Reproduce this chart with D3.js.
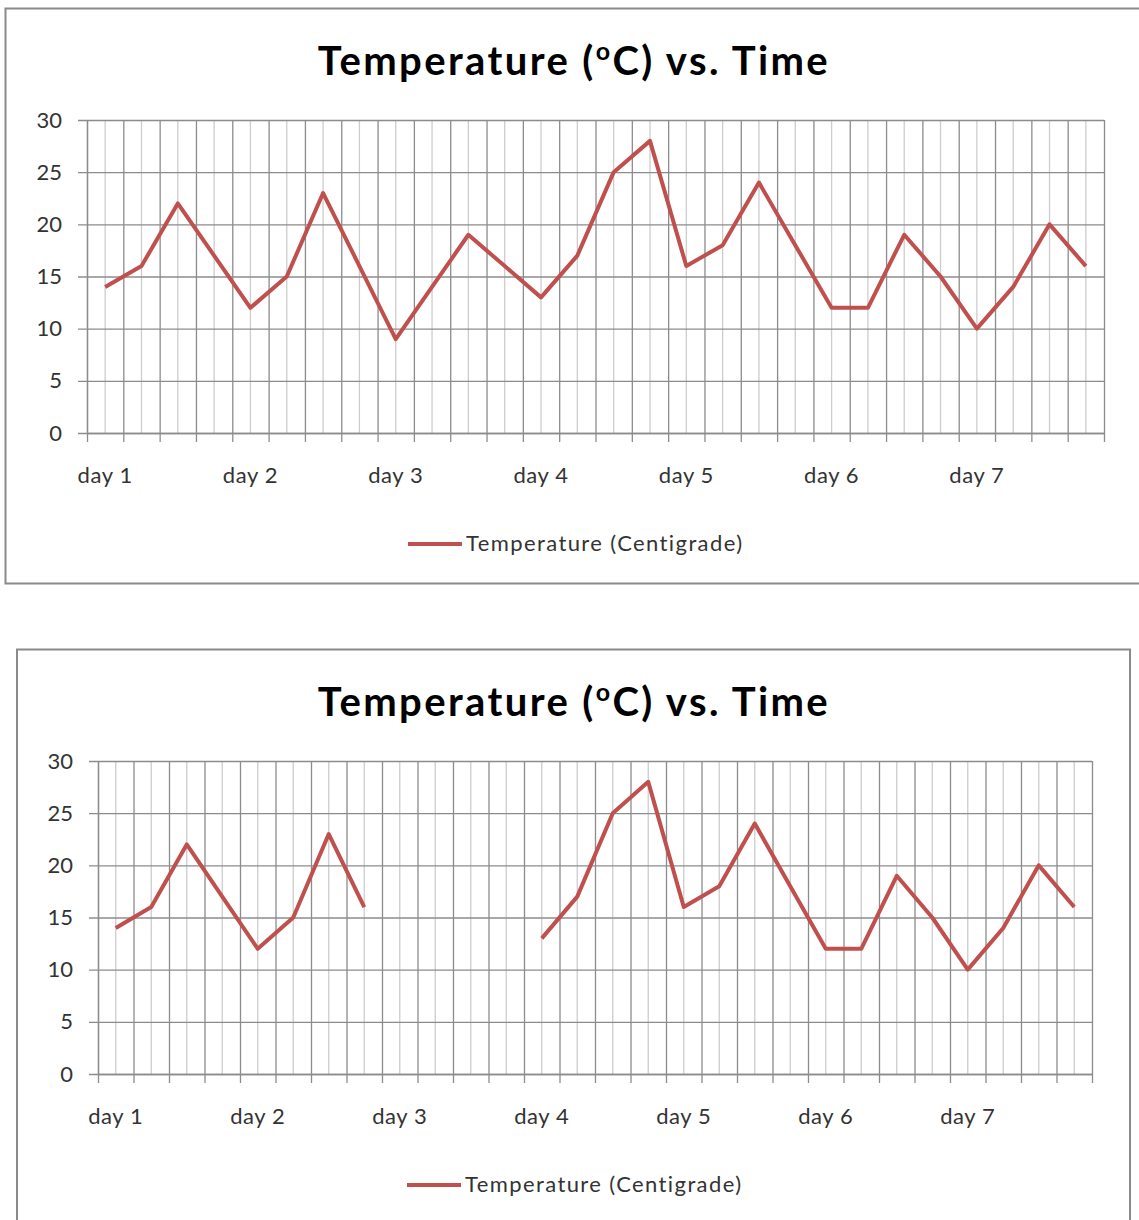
<!DOCTYPE html>
<html>
<head>
<meta charset="utf-8">
<script src="https://cdn.jsdelivr.net/npm/d3@7"></script>
<style>
  body { margin: 0; background: #fff; }
  text { font-family: Lato, "Open Sans", sans-serif; }
</style>
</head>
<body>
<div id="chart"></div>
<script>
// Data
var dayLabels = ["day 1", "day 2", "day 3", "day 4", "day 5", "day 6", "day 7"];
var slotsPerDay = 4;
var tempsFull = [14, 16, 22, 17, 12, 15, 23, 16, 9, 14, 19, 16, 13, 17,
                 25, 28, 16, 18, 24, 18, 12, 12, 19, 15, 10, 14, 20, 16];
// second chart: day 3 readings missing
var tempsGap = [14, 16, 22, 17, 12, 15, 23, 16, null, null, null, null, 13, 17,
                25, 28, 16, 18, 24, 18, 12, 12, 19, 15, 10, 14, 20, 16];
var yTicks = [0, 5, 10, 15, 20, 25, 30];
var seriesName = "Temperature (Centigrade)";

var svgWidth = 1139;
var svgHeight = 1220;

var svg = d3.select("#chart")
  .append("svg")
  .attr("width", svgWidth)
  .attr("height", svgHeight);

// chart frames
svg.append("rect")
  .attr("x", 5.5).attr("y", 8.5)
  .attr("width", 1150).attr("height", 575)
  .attr("fill", "none").attr("stroke", "#8a8a8a").attr("stroke-width", 2);

svg.append("rect")
  .attr("x", 17).attr("y", 649.5)
  .attr("width", 1113).attr("height", 600)
  .attr("fill", "none").attr("stroke", "#8a8a8a").attr("stroke-width", 2);

drawChart({ left: 87, top: 120, width: 1017, height: 313, titleY: 75, legendY: 544, legendX: 408, values: tempsFull });
drawChart({ left: 98, top: 761, width: 994, height: 313, titleY: 716, legendY: 1185, legendX: 407, values: tempsGap });

function drawChart(opt) {
  var n = opt.values.length;
  var labels = d3.range(n).map(function(i) {
    return i % slotsPerDay === 0 ? dayLabels[i / slotsPerDay] : "";
  });

  var g = svg.append("g")
    .attr("transform", `translate(${opt.left}, ${opt.top})`);

  var xBand = d3.scaleBand()
    .domain(d3.range(n))
    .range([0, opt.width])
    .padding(0);

  var xEdge = d3.scaleLinear()
    .domain([0, n])
    .range([0, opt.width]);

  var yScale = d3.scaleLinear()
    .domain([0, 30])
    .range([opt.height, 0]);

  // light gridlines through category centres
  g.append("g").selectAll("line")
    .data(d3.range(n))
    .enter()
    .append("line")
    .attr("x1", d => xBand(d) + xBand.bandwidth() / 2)
    .attr("x2", d => xBand(d) + xBand.bandwidth() / 2)
    .attr("y1", 0)
    .attr("y2", opt.height)
    .attr("stroke", "#cdcdcd")
    .attr("stroke-width", 1.3);

  // darker gridlines on category edges, with outward ticks
  var xTickAxis = d3.axisBottom(xEdge)
    .tickValues(d3.range(0, n + 1))
    .tickSizeInner(-opt.height)
    .tickSizeOuter(0)
    .tickFormat("");
  var xg = g.append("g")
    .attr("transform", `translate(0, ${opt.height})`)
    .call(xTickAxis);
  xg.selectAll(".tick line")
    .attr("y1", 9)
    .attr("stroke", "#8c8c8c")
    .attr("stroke-width", 1.3);
  xg.select(".domain").attr("stroke", "#8c8c8c").attr("stroke-width", 1.3);

  // horizontal gridlines
  var yAxis = d3.axisLeft(yScale)
    .tickValues(yTicks)
    .tickSizeInner(-opt.width)
    .tickSizeOuter(0)
    .tickPadding(25);
  var yg = g.append("g").call(yAxis);
  yg.selectAll(".tick line")
    .attr("x1", -9)
    .attr("stroke", "#8c8c8c")
    .attr("stroke-width", 1.3);
  yg.select(".domain").attr("stroke", "#8c8c8c").attr("stroke-width", 1.3);
  yg.selectAll(".tick text")
    .attr("x", -25)
    .attr("fill", "#333")
    .style("font-size", "22px");

  // category labels
  var xLabelAxis = d3.axisBottom(xBand)
    .tickSize(0)
    .tickFormat((d, i) => labels[i]);
  var xl = g.append("g")
    .attr("transform", `translate(0, ${opt.height})`)
    .call(xLabelAxis);
  xl.select(".domain").remove();
  xl.selectAll(".tick text")
    .attr("y", 50)
    .attr("dy", 0)
    .attr("fill", "#333")
    .style("font-size", "22px")
    .style("letter-spacing", "0.6px");

  // temperature line
  var line = d3.line()
    .defined(d => d != null)
    .x((d, i) => xBand(i) + xBand.bandwidth() / 2)
    .y(d => yScale(d));

  g.append("path")
    .datum(opt.values)
    .attr("d", line)
    .attr("fill", "none")
    .attr("stroke", "#c0504d")
    .attr("stroke-width", 4)
    .attr("stroke-linejoin", "round");

  // title
  var title = svg.append("text")
    .attr("x", 574)
    .attr("y", opt.titleY)
    .attr("text-anchor", "middle")
    .attr("fill", "#000")
    .style("font-size", "40px")
    .style("font-weight", "bold")
    .style("letter-spacing", "2.4px");
  title.append("tspan").text("Temperature (");
  title.append("tspan")
    .style("font-size", "25px")
    .attr("dy", -15)
    .text("o");
  title.append("tspan").attr("dy", 15).text("C) vs. Time");

  // legend
  svg.append("line")
    .attr("x1", opt.legendX)
    .attr("x2", opt.legendX + 54)
    .attr("y1", opt.legendY)
    .attr("y2", opt.legendY)
    .attr("stroke", "#c0504d")
    .attr("stroke-width", 4);
  svg.append("text")
    .attr("x", opt.legendX + 58)
    .attr("y", opt.legendY + 7)
    .attr("fill", "#333")
    .style("font-size", "22px")
    .style("letter-spacing", "1.4px")
    .text(seriesName);
}
</script>
</body>
</html>
